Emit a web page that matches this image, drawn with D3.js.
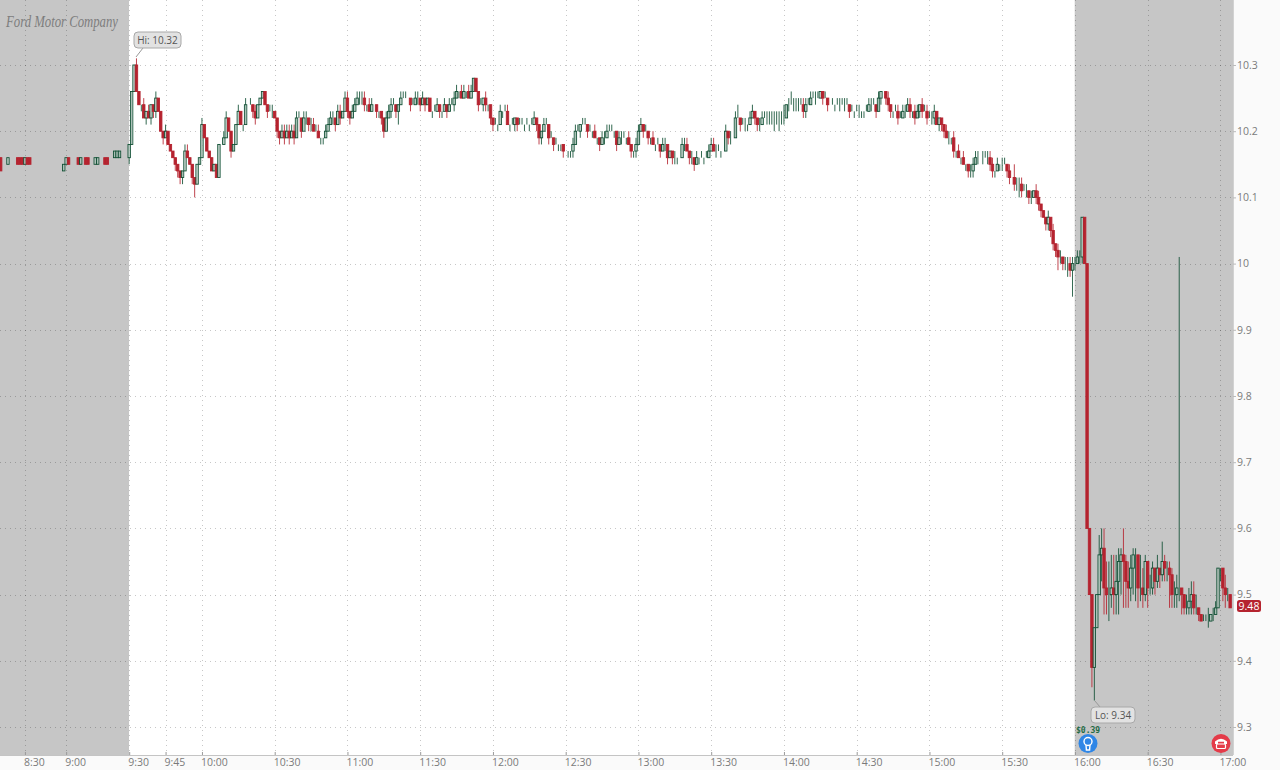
<!DOCTYPE html>
<html><head><meta charset="utf-8">
<script src="https://cdn.jsdelivr.net/npm/d3@7"></script>
<style>
html,body{margin:0;padding:0;background:#fafafa}
svg{display:block}
text{font-family:"Open Sans","Noto Sans",sans-serif}
</style></head><body><svg id="c" width="1280" height="770"></svg>
<script>
// Prices in cents. Bars are one minute each.
const tickBars=[10,27,53,68,83,113,143,173,203,233,263,293,323,353,383,413,443,473,503];
const tickLabels=["8:30","9:00","9:30","9:45","10:00","10:30","11:00","11:30","12:00","12:30","13:00","13:30","14:00","14:30","15:00","15:30","16:00","16:30","17:00"];
const priceTicks=[9.3,9.4,9.5,9.6,9.7,9.8,9.9,10,10.1,10.2,10.3];
const priceLabels=["9.3","9.4","9.5","9.6","9.7","9.8","9.9","10","10.1","10.2","10.3"];

// Pre-market, 53 slots; null = no trade drawn
const preOpens=[1016,1017,null,1015,1015,1015,null,1016,1016,1016,
1015,1016,1016,null,1015,1015,1016,null,1015,1015,
1015,1015,1015,1015,1014,1014,1014,1015,1016,null,
null,1016,1016,1015,null,1016,1016,1015,1015,1015,
1015,1015,1015,1016,1016,null,1016,1016,1016,1016,
1017,1016,1016];
const preCloses=[1014,1017,null,1016,1015,1015,null,1015,1015,1015,
1016,1015,1015,null,1015,1015,1016,null,1015,1015,
1015,1015,1015,1015,1014,1014,1015,1016,1015,null,
null,1016,1015,1016,null,1015,1015,1015,1015,1016,
1016,1015,1015,1015,1015,null,1016,1017,1017,1017,
1017,1016,1016];

// Regular session 9:30-16:00, first bar opens at 10.16
const dayFirstOpen=1016;
const dayCloses=[
1018,1026,1030,1026,1024,1024,1022,1023,1022,1024,
1023,1025,1023,1020,1019,1020,1018,1017,1016,1015,
1014,1013,1014,1017,1016,1015,1013,1012,1015,1016,
1021,1019,1017,1016,1014,1015,1013,1018,1018,1019,
1022,1020,1017,1018,1021,1023,1021,1021,1024,1024,
1024,1023,1022,1024,1025,1026,1024,1023,1023,1023,
1022,1020,1019,1020,1019,1020,1019,1020,1019,1022,
1022,1020,1022,1022,1021,1021,1020,1020,1019,1019,
1019,1020,1021,1022,1022,1021,1023,1022,1023,1025,
1023,1022,1023,1024,1025,1025,1025,1024,1024,1023,
1024,1024,1023,1023,1022,1020,1022,1023,1024,1024,
1023,1024,1025,1025,1025,1025,1024,1024,1025,1025,
1024,1025,1024,1025,1023,1023,1023,1024,1023,1023,
1024,1023,1024,1024,1025,1026,1026,1025,1026,1026,
1025,1026,1028,1026,1024,1024,1025,1024,1024,1022,
1021,1021,1021,1023,1023,1023,1021,1021,1021,1022,
1021,1021,1021,1021,1021,1021,1021,1022,1021,1019,
1020,1021,1021,1019,1019,1018,1018,1018,1018,1017,
1017,1017,1017,1018,1020,1020,1021,1021,1021,1020,
1020,1020,1019,1019,1018,1019,1019,1020,1020,1020,
1020,1018,1019,1019,1019,1019,1018,1017,1017,1018,
1020,1021,1020,1020,1019,1019,1018,1018,1018,1017,
1018,1018,1016,1017,1016,1016,1016,1016,1018,1018,
1017,1016,1016,1015,1016,1016,1016,1016,1016,1017,
1018,1017,1017,1017,1017,1017,1020,1019,1019,1019,
1022,1022,1021,1021,1021,1021,1022,1023,1022,1021,
1021,1022,1022,1022,1022,1022,1022,1022,1022,1022,
1022,1024,1024,1024,1024,1024,1024,1024,1023,1024,
1024,1025,1025,1025,1025,1026,1025,1025,1024,1024,
1024,1024,1024,1024,1024,1024,1024,1023,1023,1023,
1023,1023,1023,1023,1023,1024,1024,1024,1023,1025,
1026,1026,1025,1024,1023,1023,1023,1022,1022,1023,
1023,1024,1023,1023,1022,1023,1024,1023,1023,1022,
1022,1022,1023,1021,1022,1021,1020,1019,1019,1019,
1017,1017,1016,1016,1015,1015,1014,1014,1015,1016,
1016,1016,1016,1016,1016,1015,1014,1014,1015,1015,
1015,1015,1014,1013,1013,1012,1012,1012,1011,1011,
1011,1010,1010,1011,1010,1009,1008,1007,1006,1007,
1005,1003,1002,1001,1001,1000,1000,1000,999,1000];
const dayUpperWicks=[
0,0,0,1,0,0,1,0,1,0,
0,1,0,0,0,1,0,0,0,0,
0,0,0,1,1,0,0,0,0,0,
1,0,0,0,0,0,0,0,0,1,
1,0,0,0,0,1,0,0,1,0,
1,0,1,0,0,0,0,0,1,1,
0,0,0,1,1,1,1,1,1,1,
1,0,1,1,0,1,1,1,1,0,
0,1,1,1,1,0,1,1,0,1,
1,0,1,1,1,1,1,1,0,1,
1,0,0,0,0,0,1,1,1,1,
0,0,1,1,1,0,0,1,1,1,
0,1,0,0,0,0,1,1,0,0,
1,0,1,1,1,1,0,1,1,0,
1,1,0,0,0,1,0,1,0,0,
0,1,0,1,0,1,1,0,1,0,
0,1,1,0,1,0,1,1,0,0,
0,1,1,0,1,0,1,0,0,0,
0,0,0,1,1,1,0,1,1,0,
1,0,1,0,0,1,1,1,1,1,
0,0,1,1,1,0,1,0,0,1,
1,1,0,1,0,0,1,0,1,0,
1,1,0,0,0,1,0,0,1,1,
1,0,1,0,1,0,1,0,1,1,
1,1,1,1,0,0,1,0,1,0,
1,2,0,1,1,0,1,1,0,0,
1,1,1,1,1,1,1,1,1,1,
2,0,1,2,1,1,1,1,1,1,
1,1,1,1,1,0,0,1,0,0,
1,0,1,1,1,1,1,0,1,0,
1,1,0,0,1,1,1,1,0,1,
0,0,0,1,0,0,1,1,1,1,
1,1,1,0,1,1,0,1,1,1,
1,1,1,0,0,0,0,1,1,0,
1,0,1,0,1,0,0,1,1,1,
1,0,1,1,1,1,1,0,1,0,
1,1,0,1,0,2,1,1,1,1,
1,0,1,0,1,1,0,0,0,1,
0,1,0,1,1,0,1,1,1,1];
const dayLowerWicks=[
1,0,0,0,0,1,0,1,0,1,
1,1,0,0,1,0,0,0,0,1,
1,1,1,0,0,0,1,2,0,0,
0,0,0,0,0,0,0,0,0,0,
0,0,1,0,0,0,0,1,0,0,
0,1,1,0,0,0,0,1,0,1,
0,1,1,0,1,0,1,0,1,0,
0,1,0,1,1,1,0,0,0,1,
1,0,0,0,1,1,0,1,0,0,
1,1,0,0,0,1,1,1,1,0,
0,0,1,1,1,1,0,0,1,0,
1,2,0,0,0,0,1,0,0,1,
1,0,1,0,0,1,0,0,1,1,
0,1,0,0,1,0,1,0,0,1,
0,0,0,0,1,0,1,1,1,1,
1,0,1,0,1,0,0,1,0,1,
1,0,0,1,0,1,0,0,1,1,
1,0,0,1,0,1,0,1,1,1,
0,1,1,1,0,0,1,0,0,1,
0,1,0,1,1,0,1,0,0,0,
1,1,0,1,0,1,0,1,1,1,
0,0,1,0,1,1,0,1,0,1,
0,1,1,0,1,1,1,0,0,1,
0,1,1,1,0,1,0,1,0,0,
0,0,1,0,1,0,0,1,1,0,
0,0,1,0,1,1,0,0,1,1,
1,0,0,1,1,1,2,1,2,1,
1,0,1,0,1,1,1,0,1,1,
0,0,0,1,0,0,1,0,1,0,
0,1,0,1,0,1,0,1,0,1,
0,1,1,1,0,0,1,0,1,0,
1,0,1,1,1,1,0,1,0,0,
1,0,1,1,1,0,1,1,0,1,
0,1,1,0,1,1,1,0,1,1,
1,1,0,1,0,1,1,1,1,0,
1,0,1,0,1,1,1,1,0,1,
1,0,1,1,0,1,1,2,1,0,
1,1,1,0,1,1,1,0,1,1,
1,1,1,2,1,1,1,2,1,4];

// After hours from 16:00
const lateCloses=[
1000,1001,1001,1007,1000,960,950,939,945,950,
956,957,951,950,950,951,950,952,955,956,
955,952,951,954,956,956,951,951,950,955,
951,951,954,952,954,953,955,954,954,953,
950,950,951,951,950,948,948,949,950,948,
948,947,946,946,946,946,947,947,948,954,
954,951,950,950,948];
const lateHighs=[
1001,1002,1002,1007,1007,1000,960,950,945,950,
959,960,960,955,955,956,956,956,957,957,
960,956,955,956,957,957,956,956,954,956,
955,953,955,954,956,954,958,956,955,955,
954,952,953,1001,951,950,950,951,952,952,
950,948,947,947,947,948,947,948,949,954,
954,954,953,951,950];
const lateLows=[
999,1000,1000,1000,1000,960,950,936,934,945,
950,952,947,947,946,948,947,947,947,950,
948,948,948,949,950,949,948,949,948,949,
948,950,950,950,951,951,952,952,952,948,
948,948,948,949,947,947,947,947,947,947,
947,946,946,946,946,945,946,946,947,948,
952,949,948,949,948];

const W=1280,H=770,plotBottom=755,axisX=1233;
const x=d3.scaleLinear().domain([0,510]).range([0.67,0.67+2.425*510]);
const y=d3.scaleLinear().domain([9.2577,10.4003]).range([plotBottom,-1.4]);
const svg=d3.select("#c");

// Build bars through the data
const bars=[];
preCloses.forEach((c,i)=>{ if(c!==null) bars.push({i,o:preOpens[i],c,h:Math.max(preOpens[i],c),l:Math.min(preOpens[i],c)}); });
let prev=dayFirstOpen;
dayCloses.forEach((c,k)=>{
  bars.push({i:53+k,o:prev,c,h:Math.max(prev,c)+dayUpperWicks[k],l:Math.min(prev,c)-dayLowerWicks[k]});
  prev=c;
});
lateCloses.forEach((c,k)=>{
  bars.push({i:443+k,o:prev,c,h:Math.max(lateHighs[k],prev,c),l:Math.min(lateLows[k],prev,c)});
  prev=c;
});

// Backgrounds
svg.append("rect").attr("width",W).attr("height",H).attr("fill","#fafafa");
svg.append("rect").attr("x",0).attr("y",0).attr("width",x(53)-0.2).attr("height",plotBottom).attr("fill","#c6c6c6");
svg.append("rect").attr("x",x(53)-0.2).attr("y",0).attr("width",x(443)-x(53)).attr("height",plotBottom).attr("fill","#ffffff");
svg.append("rect").attr("x",x(443)-0.2).attr("y",0).attr("width",axisX-x(443)+0.2).attr("height",plotBottom).attr("fill","#c6c6c6");

// Grid
const grid=svg.append("g").attr("stroke","rgba(0,0,0,.22)").attr("stroke-dasharray","1 4");
grid.selectAll(".h").data(priceTicks).join("line").attr("x1",0).attr("x2",axisX)
  .attr("y1",d=>Math.round(y(d))+.5).attr("y2",d=>Math.round(y(d))+.5);
grid.selectAll(".v").data(tickBars).join("line").attr("y1",0).attr("y2",plotBottom)
  .attr("x1",d=>Math.round(x(d))+.5).attr("x2",d=>Math.round(x(d))+.5);

// Axes
const tickName=new Map(tickBars.map((b,i)=>[b,tickLabels[i]]));
const xAxis=svg.append("g").attr("transform",`translate(0,${plotBottom})`)
  .call(d3.axisBottom(x).tickValues(tickBars).tickFormat(d=>tickName.get(d)).tickSize(-3).tickPadding(0));
xAxis.select(".domain").attr("stroke","#c4c4c4").attr("d",`M0,.5H${axisX}`);
xAxis.selectAll(".tick line").attr("stroke","#999");
xAxis.selectAll("text").attr("text-anchor","start").attr("x",-1.5).attr("y",4).attr("fill","#7a7a7a").style("font-size","10.5px");

const priceName=new Map(priceTicks.map((b,i)=>[b,priceLabels[i]]));
const yAxis=svg.append("g").attr("transform",`translate(${axisX},0)`)
  .call(d3.axisRight(y).tickValues(priceTicks).tickFormat(d=>priceName.get(d)).tickSize(3).tickPadding(1));
yAxis.select(".domain").attr("stroke","#d2d2d2").attr("d",`M.5,0V${plotBottom}`);
yAxis.selectAll(".tick line").attr("stroke","#bbb");
yAxis.selectAll("text").attr("fill","#7a7a7a").style("font-size","10.5px");

// Candles
const GREEN="#0f4f33",RED="#b5232f";
const p=c=>y(c/100);
const g=svg.append("g");
const candle=g.selectAll("g.k").data(bars).join("g").attr("class","k");
candle.append("line")
  .attr("x1",d=>x(d.i)).attr("x2",d=>x(d.i))
  .attr("y1",d=>p(d.h)).attr("y2",d=>p(d.l))
  .attr("stroke",d=>d.c<d.o?RED:GREEN).attr("stroke-width",1).attr("stroke-opacity",.85);
candle.append("rect")
  .attr("x",d=>x(d.i)-1.2).attr("width",2.4)
  .attr("y",d=>p(Math.max(d.o,d.c))).attr("height",d=>Math.abs(p(d.o)-p(d.c)))
  .attr("fill",d=>d.c<d.o?RED:"rgba(255,255,255,.55)")
  .attr("stroke",d=>d.c<d.o?RED:GREEN).attr("stroke-width",.9);

// Logo
svg.append("text").attr("x",6).attr("y",27).attr("fill","#7d7d7d")
  .attr("textLength",112).attr("lengthAdjust","spacingAndGlyphs")
  .style("font-family","'Liberation Serif',serif").style("font-style","italic").style("font-size","16px")
  .text("Ford Motor Company");

// Callouts
function callout(bx,by,bw,label,lx1,ly1,lx2,ly2){
  svg.append("path").attr("d",`M${lx1},${ly1}L${lx2},${ly2}`).attr("stroke","#999").attr("fill","none");
  svg.append("rect").attr("x",bx).attr("y",by).attr("width",bw).attr("height",16).attr("rx",4)
    .attr("fill","#e2e2e2").attr("stroke","#a8a8a8");
  svg.append("text").attr("x",bx+bw/2).attr("y",by+11.5).attr("text-anchor","middle")
    .attr("fill","#555").style("font-size","10px").text(label);
}
callout(134,32,47,"Hi: 10.32",143,48,136,57);
callout(1091,707,44,"Lo: 9.34",1100,707,1095,701);

// Last price tag
svg.append("rect").attr("x",1237).attr("y",600).attr("width",24).attr("height",12).attr("rx",2.5).attr("fill",RED);
svg.append("text").attr("x",1249).attr("y",609.8).attr("text-anchor","middle").attr("fill","#fff")
  .style("font-size","10.5px").text("9.48");

// Event markers
svg.append("text").attr("x",1076).attr("y",733).attr("fill","#1f6b45")
  .style("font-family","'DejaVu Sans Mono',monospace").style("font-size","8px").style("font-weight","700").text("$0.39");
svg.append("circle").attr("cx",1088).attr("cy",743.5).attr("r",9.5).attr("fill","#2f86e6");
svg.append("circle").attr("cx",1088).attr("cy",741.5).attr("r",4).attr("fill","none").attr("stroke","#fff").attr("stroke-width",1.4);
svg.append("path").attr("d","M1086,745L1086.4,750H1089.6L1090,745").attr("fill","none").attr("stroke","#fff").attr("stroke-width",1.4);
svg.append("circle").attr("cx",1221).attr("cy",743.5).attr("r",9.5).attr("fill","#e43b49");
svg.append("path").attr("d","M1215,741.5Q1221,736 1227,741.5V744H1224V741.8H1218V744H1215Z").attr("fill","#fff");
svg.append("rect").attr("x",1216.5).attr("y",744).attr("width",9).attr("height",4.5).attr("rx",1).attr("fill","none").attr("stroke","#fff").attr("stroke-width",1.2);
</script></body></html>
